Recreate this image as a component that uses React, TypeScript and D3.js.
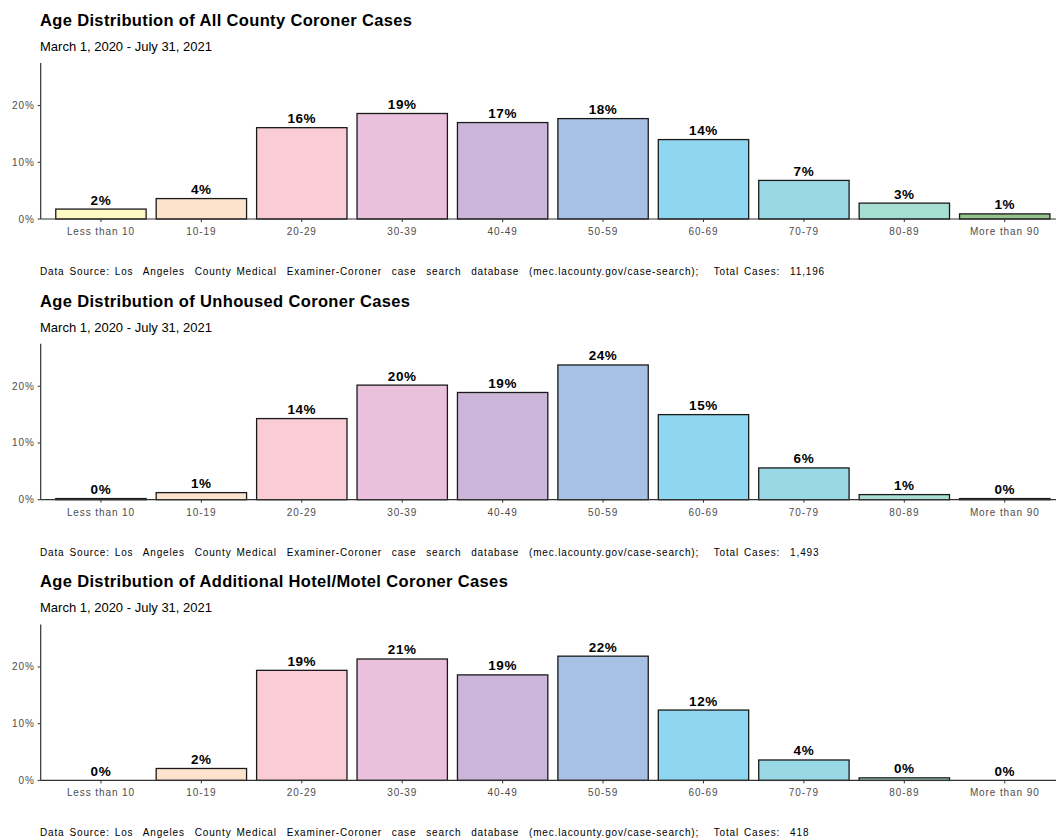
import * as d3 from 'd3';

// Age groups and shares (fraction of cases)
const ageGroups = ['Less than 10', '10-19', '20-29', '30-39', '40-49', '50-59', '60-69', '70-79', '80-89', 'More than 90'];
const groupColors = ['#FDF8C4', '#FDE3CB', '#F9CCD6', '#EAC1DC', '#CBB6DA', '#A7C1E4', '#8FD7F1', '#99D9E6', '#A7DED3', '#93C28B'];

const allCountyShares = [0.0175, 0.036, 0.161, 0.186, 0.170, 0.177, 0.140, 0.068, 0.028, 0.009];
const unhousedShares = [0.002, 0.0125, 0.143, 0.202, 0.189, 0.2375, 0.150, 0.056, 0.009, 0.002];
const hotelShares = [0.0, 0.021, 0.194, 0.214, 0.186, 0.219, 0.124, 0.036, 0.0045, 0.0];

const panelTitles = [
  'Age Distribution of All County Coroner Cases',
  'Age Distribution of Unhoused Coroner Cases',
  'Age Distribution of Additional Hotel/Motel Coroner Cases',
];
const totalCases = ['11,196', '1,493', '418'];
const yTicks = [0, 0.1, 0.2];

const subtitle = 'March 1, 2020 - July 31, 2021';
const font = '"Liberation Sans", Arial, Helvetica, sans-serif';
const pct = d3.format('.0%');

function Panel({title, shares, total, top}) {
  const left = 40.7;
  const plotTop = 63;
  const plotBottom = 219;

  const x = d3.scaleBand().domain(ageGroups).range([left, 1065]).paddingInner(0.1).paddingOuter(0.15);
  const y = d3.scaleLinear().domain([0, 0.275]).range([plotBottom, plotTop]);
  const cx = g => x(g) + x.bandwidth() / 2;

  return (
    <g transform={`translate(0, ${top})`} fontFamily={font}>
      <text x={40} y={26} fontSize={16.5} fontWeight="bold" letterSpacing={0.35} fill="#000">{title}</text>
      <text x={40} y={51} fontSize={13} fill="#000">{subtitle}</text>

      {shares.map((v, i) => (
        <g key={ageGroups[i]}>
          {v > 0 && (
            <rect x={x(ageGroups[i])} y={y(v)} width={x.bandwidth()} height={y(0) - y(v)}
              fill={groupColors[i]} stroke="#1a1a1a" strokeWidth={1.3} />
          )}
          <text x={cx(ageGroups[i])} y={y(v) - 4.5} textAnchor="middle"
            fontSize={13.5} fontWeight="bold" letterSpacing={0.6} fill="#000">{pct(v)}</text>
        </g>
      ))}

      {/* axes */}
      <line x1={left} x2={1056} y1={y(0)} y2={y(0)} stroke="#333" strokeWidth={1.2} />
      <line x1={left} x2={left} y1={plotTop} y2={y(0)} stroke="#333" strokeWidth={1.2} />
      {yTicks.map(t => (
        <g key={t}>
          <line x1={left - 3} x2={left} y1={y(t)} y2={y(t)} stroke="#333" />
          <text x={left - 6} y={y(t)} dy="0.35em" textAnchor="end" fontSize={10} letterSpacing={0.9} fill="#4d4d4d">{pct(t)}</text>
        </g>
      ))}
      {ageGroups.map(g => (
        <g key={g}>
          <line x1={cx(g)} x2={cx(g)} y1={y(0)} y2={y(0) + 3} stroke="#333" />
          <text x={cx(g)} y={y(0) + 16} textAnchor="middle" fontSize={10} letterSpacing={0.9} fill="#4d4d4d">{g}</text>
        </g>
      ))}

      <text x={40} y={275} fontSize={10} letterSpacing={0.85} wordSpacing={1.3} fill="#000" style={{whiteSpace: 'pre'}}>
        {`Data Source: Los  Angeles  County Medical  Examiner-Coroner  case  search  database  (mec.lacounty.gov/case-search);   Total Cases:  ${total}`}
      </text>
    </g>
  );
}

export default function App() {
  const panels = [allCountyShares, unhousedShares, hotelShares];
  return (
    <svg width={1056} height={840} style={{position: 'absolute', left: 0, top: 0, background: '#fff'}}>
      <rect width={1056} height={840} fill="#fff" />
      {panels.map((s, i) => (
        <Panel key={i} title={panelTitles[i]} shares={s} total={totalCases[i]} top={i * 280.7} />
      ))}
    </svg>
  );
}
